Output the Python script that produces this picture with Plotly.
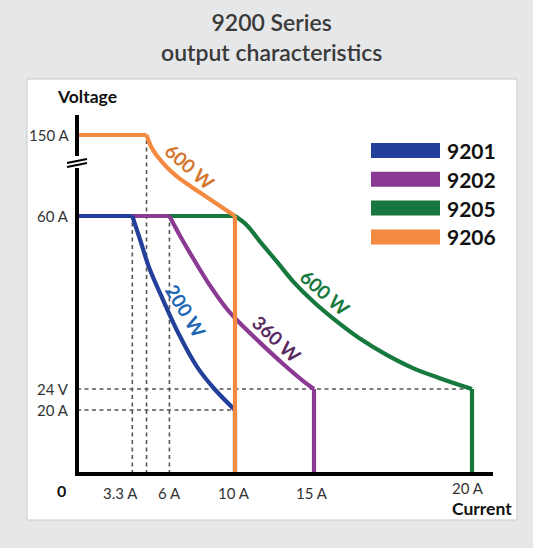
import plotly.graph_objects as go
import numpy as np

# ---------------- data ----------------
models = ["9201", "9202", "9205", "9206"]
series_colors = ["#22409a", "#8a3a93", "#16783d", "#f28a41"]
label_colors = ["#1c66b2", "#5a2a62", "#16783d", "#d3772f"]
power_labels = ["200 W", "360 W", "600 W", "600 W"]

# operating envelopes (current in A, voltage in V)
i_9201 = [0, 3.5, 4.0, 4.55, 5.45, 6.4, 7.6, 8.7, 10.0, 10.0]
v_9201 = [60, 60, 55.0, 49.4, 42.5, 35.7, 28.6, 24.0, 20.0, 0]
i_9202 = [0, 5.85, 6.5, 7.35, 8.4, 9.45, 10.1, 11.6, 13.05, 14.3, 15.0, 15.0]
v_9202 = [60, 60, 56.0, 51.2, 45.6, 40.8, 38.4, 33.6, 29.2, 25.7, 24.0, 0]
i_9205 = [0, 10.0, 10.75, 11.6, 12.65, 13.7, 14.95, 16.2, 17.9, 19.6, 21.3, 23.0, 25.0, 25.0]
v_9205 = [60, 60, 58.1, 54.6, 50.5, 46.3, 42.2, 38.7, 34.5, 31.1, 28.3, 26.2, 24.0, 0]
i_9206 = [0, 4.4, 4.7, 5.15, 5.7, 6.4, 7.25, 8.2, 9.05, 10.0, 10.0]
v_9206 = [150, 150, 136.7, 125.0, 113.9, 102.8, 92.2, 81.1, 71.1, 60, 0]
currents = [i_9201, i_9202, i_9205, i_9206]
voltages = [v_9201, v_9202, v_9205, v_9206]

# dashed guide lines
guide_v_currents = [3.5, 4.4, 5.85]
guide_v_tops = [60, 150, 60]
guide_h_volts = [24, 20]
guide_h_ends = [25, 10]

# tick labels
y_tick_vals = [150, 60, 24, 20]
y_tick_text = ["150 A", "60 A", "24 V", "20 A"]
x_tick_vals = [3.5, 5.85, 10, 15, 25]
x_tick_text = ["3.3 A", "6 A", "10 A", "15 A", "20 A"]

# ---------------- scales ----------------
W, H = 533, 548
X0_PX, Y0_PX = 77, 474          # pixel of origin
PX_PER_A = 15.8
L, R, T, B = 45, 27, 105, 64
plot_w = W - L - R
plot_h = H - T - B
x_range = [-(X0_PX - L) / PX_PER_A, -(X0_PX - L) / PX_PER_A + plot_w / PX_PER_A]
y_range = [-(H - B - Y0_PX), Y0_PX - T]

# schematic (broken, non-uniform) voltage axis: volts -> display units
knot_v = [0, 20, 24, 60, 150]
knot_d = [0, 64, 85, 258, 339]


def ymap(v):
    return np.interp(v, knot_v, knot_d)


def px_x(px):
    return (px - L) / plot_w


def px_y(py):
    return (H - B - py) / plot_h


FONT = "Lato"
fig = go.Figure()

# guide lines
dash_style = dict(color="#555555", width=1.6, dash="4px,3.5px")
for i, top in zip(guide_v_currents, guide_v_tops):
    fig.add_trace(go.Scatter(x=[i, i], y=ymap([0, top]), mode="lines",
                             line=dash_style, hoverinfo="skip", showlegend=False))
for v, end in zip(guide_h_volts, guide_h_ends):
    fig.add_trace(go.Scatter(x=[0, end], y=ymap([v, v]), mode="lines",
                             line=dash_style, hoverinfo="skip", showlegend=False))

# series (draw order so that 9201 sits over 9202 over 9205, 9206 on top)
for k in [2, 1, 0, 3]:
    ci, vv = currents[k], voltages[k]
    yy = list(ymap(vv))
    # straight parts: constant-voltage plateau and current-limit drop
    fig.add_trace(go.Scatter(x=[ci[0], ci[1], None, ci[-2], ci[-1]],
                             y=[yy[0], yy[1], None, yy[-2], yy[-1]],
                             mode="lines", name=models[k], connectgaps=False,
                             line=dict(color=series_colors[k], width=4.2),
                             showlegend=False))
    # constant-power curve
    fig.add_trace(go.Scatter(x=ci[1:-1], y=yy[1:-1], mode="lines", name=models[k],
                             line=dict(color=series_colors[k], width=4.2,
                                       shape="spline", smoothing=1.0),
                             showlegend=False))

shapes = []
# white panel
shapes.append(dict(type="rect", xref="paper", yref="paper",
                   x0=px_x(27), x1=px_x(517), y0=px_y(520), y1=px_y(79),
                   fillcolor="white", line=dict(color="#c9c9c9", width=1),
                   layer="below"))
# axes
gap_lo, gap_hi = 474 - 168, 474 - 156
shapes += [
    dict(type="line", xref="x", yref="y", x0=-0.12, x1=(493 - X0_PX) / PX_PER_A,
         y0=0, y1=0, line=dict(color="black", width=4)),
    dict(type="line", xref="x", yref="y", x0=0, x1=0, y0=-2, y1=gap_lo,
         line=dict(color="black", width=4)),
    dict(type="line", xref="x", yref="y", x0=0, x1=0, y0=gap_hi, y1=474 - 115,
         line=dict(color="black", width=4)),
]
for dy in (0, 4):
    shapes.append(dict(type="line", xref="x", yref="y",
                       x0=-10 / PX_PER_A, x1=10 / PX_PER_A,
                       y0=474 - 163 - dy, y1=474 - 159 - dy,
                       line=dict(color="black", width=2)))

annotations = []
# title
annotations.append(dict(xref="paper", yref="paper", x=px_x(271), y=px_y(37),
                        text="9200 Series<br>output characteristics", showarrow=False,
                        font=dict(family=FONT, size=23, color="#3a3a3a", weight=600),
                        align="center", xanchor="center", yanchor="middle"))
# axis titles
annotations.append(dict(xref="paper", yref="paper", x=px_x(55), y=px_y(97),
                        text="Voltage", showarrow=False, xanchor="left", yanchor="middle",
                        font=dict(family=FONT, size=17.5, color="#111", weight="bold")))
annotations.append(dict(xref="paper", yref="paper", x=px_x(514), y=px_y(508),
                        text="Current", showarrow=False, xanchor="right", yanchor="middle",
                        font=dict(family=FONT, size=17.5, color="#111", weight="bold")))
annotations.append(dict(xref="paper", yref="paper", x=px_x(61), y=px_y(490),
                        text="0", showarrow=False, xanchor="center", yanchor="middle",
                        font=dict(family=FONT, size=16, color="#111", weight="bold")))
# y tick labels
for v, t in zip(y_tick_vals, y_tick_text):
    annotations.append(dict(xref="x", yref="y", x=0, y=float(ymap(v)), text=t,
                            showarrow=False, xanchor="right", yanchor="middle", xshift=-6,
                            font=dict(family=FONT, size=15, color="#333")))
# x tick labels
x_shift = [-12, 0, -1, -2, -4]
y_shift = [-19, -19, -19, -19, -14]
for v, t, dx, dy in zip(x_tick_vals, x_tick_text, x_shift, y_shift):
    annotations.append(dict(xref="x", yref="y", x=v, y=0, text=t,
                            showarrow=False, xanchor="center", yanchor="middle",
                            xshift=dx, yshift=dy,
                            font=dict(family=FONT, size=15, color="#333")))
# power labels on curves (current, volts, angle)
label_pos = [(6.93, 40.2, 58), (12.63, 34.5, 43), (15.7, 44.0, 41), (7.15, 115.0, 41)]
for k, (ci, vv, ang) in enumerate(label_pos):
    annotations.append(dict(xref="x", yref="y", x=ci, y=float(ymap(vv)),
                            text=power_labels[k], showarrow=False, textangle=ang,
                            xanchor="center", yanchor="middle",
                            font=dict(family=FONT, size=19, color=label_colors[k],
                                      weight="bold")))
# legend
leg_rows = [150.5, 179.3, 208.1, 236.9]
for k, yc in enumerate(leg_rows):
    shapes.append(dict(type="rect", xref="paper", yref="paper",
                       x0=px_x(371), x1=px_x(440), y0=px_y(yc + 7.5), y1=px_y(yc - 7.5),
                       fillcolor=series_colors[k], line=dict(width=0)))
    annotations.append(dict(xref="paper", yref="paper", x=px_x(445), y=px_y(yc),
                            text=models[k], showarrow=False, xanchor="left",
                            yanchor="middle",
                            font=dict(family=FONT, size=21, color="#111", weight="bold")))

fig.update_layout(
    width=W, height=H,
    margin=dict(l=L, r=R, t=T, b=B, pad=0),
    paper_bgcolor="#e6e7e8",
    plot_bgcolor="rgba(0,0,0,0)",
    shapes=shapes,
    annotations=annotations,
    showlegend=False,
    xaxis=dict(range=x_range, visible=False, fixedrange=True),
    yaxis=dict(range=y_range, visible=False, fixedrange=True),
)

fig.write_html("out.html",
               config={"displayModeBar": False},
               post_script="document.body.style.margin='0px';"
                           "document.body.style.background='#e6e7e8';")
